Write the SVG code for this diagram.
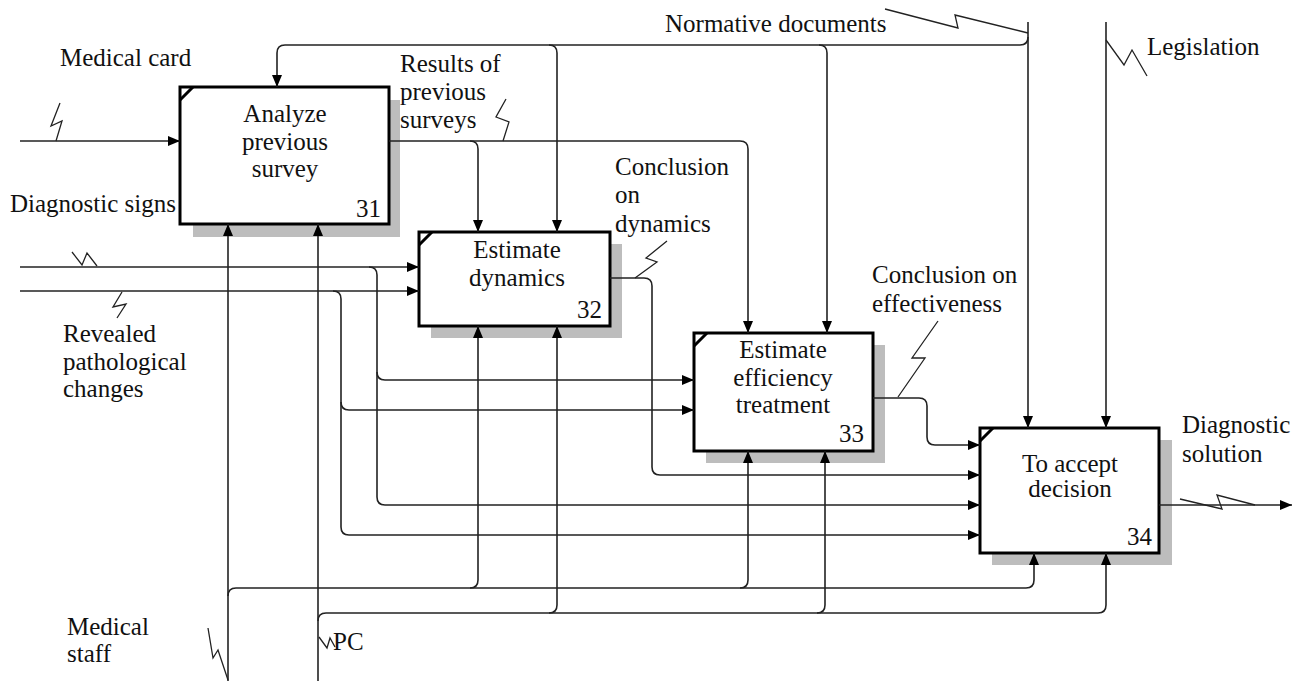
<svg xmlns="http://www.w3.org/2000/svg" width="1299" height="681" viewBox="0 0 1299 681">
<style>
text{font-size:25px;fill:#111}
.box{fill:#fff;stroke:#000;stroke-width:3}
.sh{fill:#bdbdbd}
.cm{stroke:#000;stroke-width:3;fill:none}
.c{fill:none;stroke:#222;stroke-width:1.6}
.a{fill:none;stroke:#222;stroke-width:1.6;marker-end:url(#ah)}
.sq{fill:none;stroke:#222;stroke-width:1.3}
.mid{text-anchor:middle}
.end{text-anchor:end}
</style>
<defs>
<marker id="ah" markerUnits="userSpaceOnUse" markerWidth="12" markerHeight="10" refX="12" refY="5" orient="auto">
<path d="M0,0 L12,5 L0,10 z" fill="#000"/>
</marker>
</defs>
<rect width="1299" height="681" fill="#fff"/>
<g font-family="'Liberation Serif', 'Times New Roman', serif">

<g id="node31">
<rect class="sh" x="193" y="100" width="207" height="137"/>
<rect class="box" x="180" y="87" width="209" height="137"/>
<path class="cm" d="M180,100 L193,87"/>
<text class="mid" x="285" y="122">Analyze</text>
<text class="mid" x="285" y="150">previous</text>
<text class="mid" x="285" y="177">survey</text>
<text class="end" x="381" y="217">31</text>
</g>

<g id="node32">
<rect class="sh" x="431" y="244" width="191" height="94"/>
<rect class="box" x="419" y="232" width="191" height="94"/>
<path class="cm" d="M419,245 L432,232"/>
<text class="mid" x="517" y="258">Estimate</text>
<text class="mid" x="517" y="286">dynamics</text>
<text class="end" x="602" y="318">32</text>
</g>

<g id="node33">
<rect class="sh" x="706" y="345" width="179" height="118"/>
<rect class="box" x="694" y="333" width="179" height="118"/>
<path class="cm" d="M694,346 L707,333"/>
<text class="mid" x="783" y="358">Estimate</text>
<text class="mid" x="783" y="386">efficiency</text>
<text class="mid" x="783" y="413">treatment</text>
<text class="end" x="864" y="442">33</text>
</g>

<g id="node34">
<rect class="sh" x="992" y="440" width="180" height="125"/>
<rect class="box" x="980" y="428" width="179" height="125"/>
<path class="cm" d="M980,441 L993,428"/>
<text class="mid" x="1070" y="472">To accept</text>
<text class="mid" x="1070" y="497">decision</text>
<text class="end" x="1152" y="545">34</text>
</g>

<g id="connectors">
<!-- Medical card -->
<path class="a" d="M20,141 H180"/>
<path class="sq" d="M56,141 L62,121 L51,126 L60,103"/>
<!-- Diagnostic signs -->
<path class="a" d="M20,267 H419"/>
<path class="a" d="M369,267 Q377,267 377,275 V497 Q377,505 385,505 H980"/>
<path class="a" d="M377,372 Q377,380 385,380 H694"/>
<path class="sq" d="M72,252 L82,265 L87,253 L97,266"/>
<!-- Revealed pathological changes -->
<path class="a" d="M20,291 H419"/>
<path class="a" d="M333,291 Q341,291 341,299 V527 Q341,535 349,535 H980"/>
<path class="a" d="M341,402 Q341,410 349,410 H694"/>
<path class="sq" d="M122,292 L113,307 L126,304 L117,318"/>
<!-- Results of previous surveys -->
<path class="a" d="M389,141 H740 Q748,141 748,149 V333"/>
<path class="a" d="M470,141 Q478,141 478,149 V232"/>
<path class="sq" d="M503,141 L509,122 L496,117 L506,99"/>
<!-- Conclusion on dynamics -->
<path class="a" d="M610,278 H644 Q652,278 652,286 V467 Q652,475 660,475 H980"/>
<path class="sq" d="M635,278 L657,262 L646,258 L667,241"/>
<!-- Conclusion on effectiveness -->
<path class="a" d="M873,398 H919 Q927,398 927,406 V437 Q927,445 935,445 H980"/>
<path class="sq" d="M898,397 L925,358 L912,358 L938,321"/>
<!-- Diagnostic solution -->
<path class="a" d="M1159,505 H1292"/>
<path class="sq" d="M1180,499 L1222,509 L1217,495 L1255,505"/>
<!-- Normative documents -->
<path class="a" d="M1028,22 V428"/>
<path class="a" d="M1028,37 Q1028,45 1020,45 H285 Q277,45 277,53 V87"/>
<path class="a" d="M549,45 Q557,45 557,53 V232"/>
<path class="a" d="M819,45 Q827,45 827,53 V333"/>
<path class="sq" d="M885,9 L958,28 L955,15 L1028,33"/>
<!-- Legislation -->
<path class="a" d="M1106,22 V428"/>
<path class="sq" d="M1106,40 L1124,65 L1132,50 L1147,76"/>
<!-- Medical staff -->
<path class="a" d="M228,681 V224"/>
<path class="a" d="M228,596 Q228,588 236,588 H1026 Q1034,588 1034,580 V553"/>
<path class="a" d="M470,588 Q478,588 478,580 V326"/>
<path class="a" d="M740,588 Q748,588 748,580 V451"/>
<path class="sq" d="M208,628 L213,658 L218,650 L228,680"/>
<!-- PC -->
<path class="a" d="M318,681 V224"/>
<path class="a" d="M318,621 Q318,613 326,613 H1098 Q1106,613 1106,605 V553"/>
<path class="a" d="M549,613 Q557,613 557,605 V326"/>
<path class="a" d="M817,613 Q825,613 825,605 V451"/>
<path class="sq" d="M319,637 L327,648 L330,638 L335,647"/>
</g>

<g id="labels">
<text x="60" y="66">Medical card</text>
<text x="10" y="212">Diagnostic signs</text>
<text x="63" y="342">Revealed</text>
<text x="63" y="370">pathological</text>
<text x="63" y="397">changes</text>
<text x="400" y="72">Results of</text>
<text x="400" y="100">previous</text>
<text x="400" y="128">surveys</text>
<text x="615" y="175">Conclusion</text>
<text x="615" y="203">on</text>
<text x="615" y="232">dynamics</text>
<text x="872" y="283">Conclusion on</text>
<text x="872" y="312">effectiveness</text>
<text x="1182" y="433">Diagnostic</text>
<text x="1182" y="462">solution</text>
<text x="665" y="32">Normative documents</text>
<text x="1147" y="55">Legislation</text>
<text x="67" y="635">Medical</text>
<text x="67" y="662">staff</text>
<text x="333" y="650">PC</text>
</g>
</g>
</svg>
